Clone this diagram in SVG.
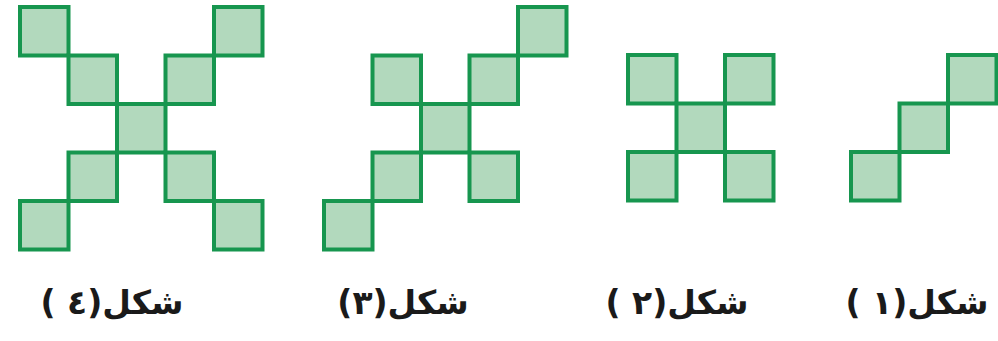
<svg xmlns="http://www.w3.org/2000/svg" width="998" height="341" viewBox="0 0 998 341">
<style>
.sq{fill:#b2d9bd;stroke:#17964f;stroke-width:4}
.lbl{font-family:"DejaVu Sans",sans-serif;font-weight:bold;font-size:33px;fill:#1a1a1a}
</style>
<rect width="998" height="341" fill="#ffffff"/>
<g id="fig4">
<rect class="sq" x="20" y="7" width="48.5" height="48.5"/>
<rect class="sq" x="214" y="7" width="48.5" height="48.5"/>
<rect class="sq" x="68.5" y="55.5" width="48.5" height="48.5"/>
<rect class="sq" x="165.5" y="55.5" width="48.5" height="48.5"/>
<rect class="sq" x="117" y="104" width="48.5" height="48.5"/>
<rect class="sq" x="68.5" y="152.5" width="48.5" height="48.5"/>
<rect class="sq" x="165.5" y="152.5" width="48.5" height="48.5"/>
<rect class="sq" x="20" y="201" width="48.5" height="48.5"/>
<rect class="sq" x="214" y="201" width="48.5" height="48.5"/>
</g>
<g id="fig3">
<rect class="sq" x="518" y="7" width="48.5" height="48.5"/>
<rect class="sq" x="372.5" y="55.5" width="48.5" height="48.5"/>
<rect class="sq" x="469.5" y="55.5" width="48.5" height="48.5"/>
<rect class="sq" x="421" y="104" width="48.5" height="48.5"/>
<rect class="sq" x="372.5" y="152.5" width="48.5" height="48.5"/>
<rect class="sq" x="469.5" y="152.5" width="48.5" height="48.5"/>
<rect class="sq" x="324" y="201" width="48.5" height="48.5"/>
</g>
<g id="fig2">
<rect class="sq" x="628" y="55" width="48.5" height="48.5"/>
<rect class="sq" x="725" y="55" width="48.5" height="48.5"/>
<rect class="sq" x="676.5" y="103.5" width="48.5" height="48.5"/>
<rect class="sq" x="628" y="152" width="48.5" height="48.5"/>
<rect class="sq" x="725" y="152" width="48.5" height="48.5"/>
</g>
<g id="fig1">
<rect class="sq" x="948" y="55" width="48.5" height="48.5"/>
<rect class="sq" x="899.5" y="103.5" width="48.5" height="48.5"/>
<rect class="sq" x="851" y="152" width="48.5" height="48.5"/>
</g>
<g id="labels">
<text class="lbl" x="112" y="314" text-anchor="middle" direction="rtl">شكل(٤ )</text>
<text class="lbl" x="403" y="314" text-anchor="middle" direction="rtl">شكل(٣)</text>
<text class="lbl" x="677" y="314" text-anchor="middle" direction="rtl">شكل(٢ )</text>
<text class="lbl" x="917" y="314" text-anchor="middle" direction="rtl">شكل(١ )</text>
</g>
</svg>
